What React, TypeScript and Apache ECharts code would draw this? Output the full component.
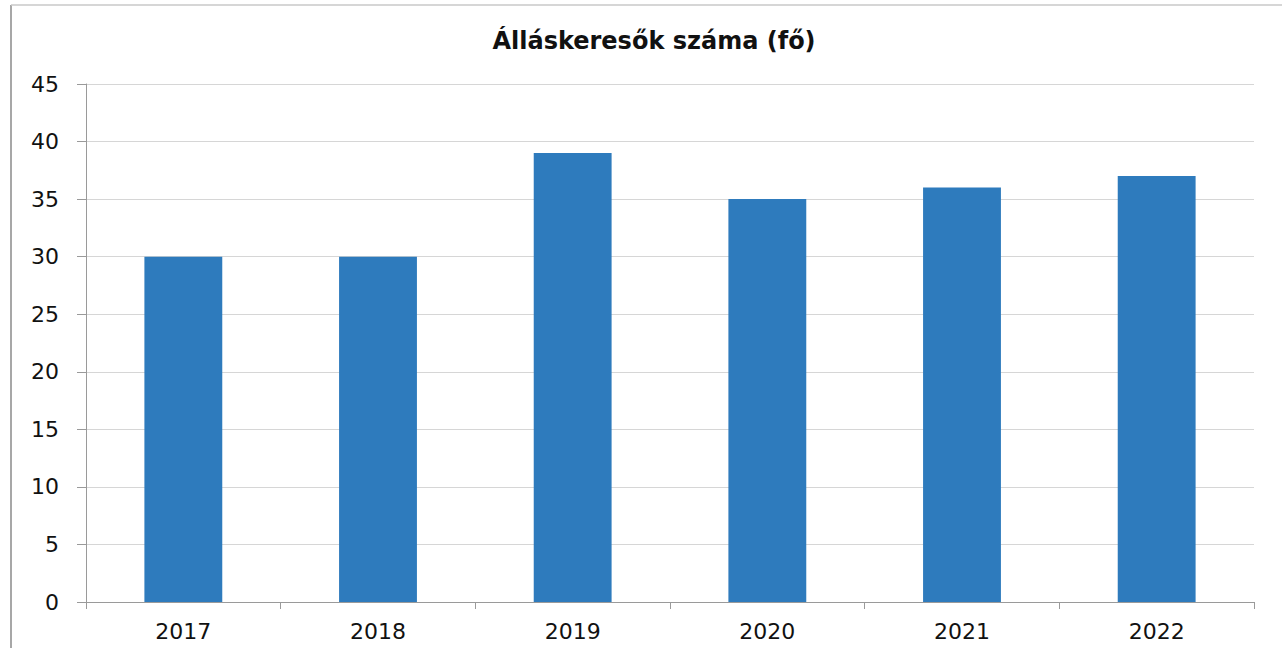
import React, { useEffect, useRef } from "react";
import * as echarts from "echarts";

const categories = ["2017", "2018", "2019", "2020", "2021", "2022"];
const values = [30, 30, 39, 35, 36, 37];
const titleText = "Álláskeresők száma (fő)";

export default function App() {
  const ref = useRef<HTMLDivElement>(null);
  useEffect(() => {
    if (!ref.current) return;
    const chart = echarts.init(ref.current, undefined, { renderer: "svg" });
    chart.setOption({
      animation: false,
      backgroundColor: "#ffffff",
      title: {
        text: titleText,
        left: 649,
        top: 24,
        textAlign: "center",
        textStyle: {
          fontFamily: "DejaVu Sans",
          fontWeight: "bold",
          fontSize: 24,
          color: "#111111",
        },
      },
      grid: { left: 86, right: 28, top: 84, bottom: 46, containLabel: false },
      xAxis: {
        type: "category",
        data: categories,
        axisLine: { lineStyle: { color: "#9a9a9a", width: 1 } },
        axisTick: { show: true, alignWithLabel: false, length: 7, lineStyle: { color: "#9a9a9a" } },
        axisLabel: {
          margin: 18,
          fontFamily: "DejaVu Sans",
          fontSize: 22,
          color: "#111111",
        },
      },
      yAxis: {
        type: "value",
        min: 0,
        max: 45,
        interval: 5,
        axisLine: { show: true, lineStyle: { color: "#9a9a9a", width: 1 } },
        axisTick: { show: true, inside: false, length: 9, lineStyle: { color: "#9a9a9a" } },
        splitLine: { show: true, lineStyle: { color: "#d6d6d6", width: 1 } },
        axisLabel: {
          margin: 27,
          fontFamily: "DejaVu Sans",
          fontSize: 22,
          color: "#111111",
        },
      },
      series: [
        {
          type: "bar",
          data: values,
          barWidth: "40%",
          itemStyle: { color: "#2e7bbd" },
        },
      ],
      graphic: [
        { type: "line", shape: { x1: 11, y1: 5, x2: 11, y2: 648 }, style: { stroke: "#8a8a8a", lineWidth: 1.5 } },
        { type: "line", shape: { x1: 11, y1: 5, x2: 1282, y2: 5 }, style: { stroke: "#c8c8c8", lineWidth: 1.5 } },
      ],
    });
    return () => chart.dispose();
  }, []);
  return (
    <div
      ref={ref}
      style={{ position: "fixed", left: 0, top: 0, width: 1282, height: 648 }}
    />
  );
}
